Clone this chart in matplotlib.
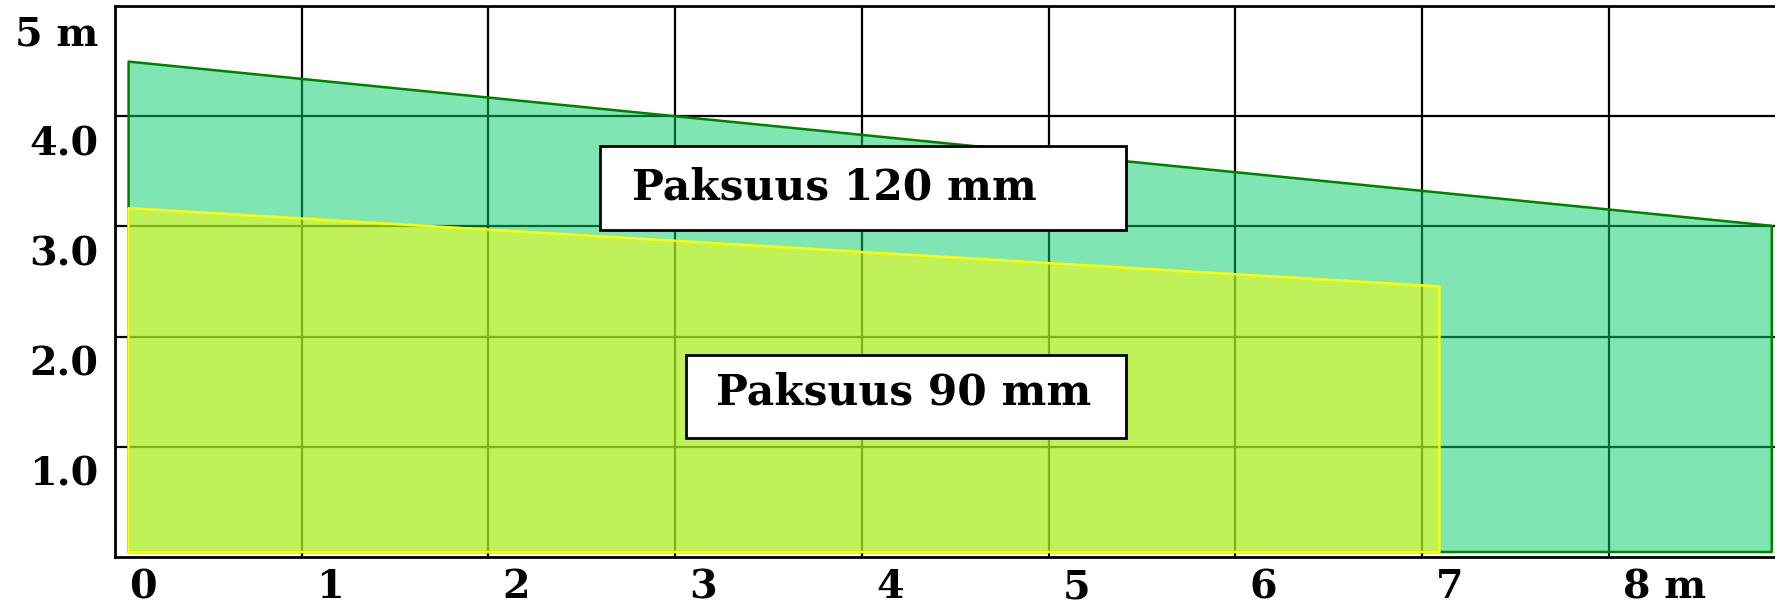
import matplotlib.pyplot as plt
import matplotlib.transforms as mtransforms
from matplotlib.patches import Rectangle

plt.rcParams['font.family'] = ['DejaVu Serif']

# data
x_120 = [0.07, 8.87]
top_120 = [4.5, 3.01]
x_90 = [0.07, 7.09]
top_90 = [3.17, 2.46]
bottom = 0.05

xticks = [0, 1, 2, 3, 4, 5, 6, 7, 8]
xlabels = ['0', '1', '2', '3', '4', '5', '6', '7', '8 m']
yticks = [1, 2, 3, 4, 5]
ylabels = ['1.0', '2.0', '3.0', '4.0', '5 m']

fig = plt.figure(figsize=(17.75, 6.04), dpi=100)
ax = fig.add_axes([115 / 1775, 47 / 604, 1 - 115 / 1775, 551 / 604])

ax.set_xlim(0, 8.89)
ax.set_ylim(0, 5)
ax.grid(True, color='black', linewidth=1.6)
ax.set_axisbelow(True)

ax.fill_between(x_120, top_120, bottom, facecolor=(0, 0.8, 0.4, 0.5),
                edgecolor='#008000', linewidth=1.8, zorder=2)
ax.fill_between(x_90, top_90, bottom, facecolor=(1, 1, 0, 0.5),
                edgecolor='#FFFF00', linewidth=1.8, zorder=3)

# label boxes
ax.add_patch(Rectangle((2.60, 2.97), 2.815, 0.76, facecolor='white',
                       edgecolor='black', linewidth=2, zorder=4))
ax.text(2.77, 3.35, 'Paksuus 120 mm', fontsize=30.5, fontweight='bold',
        ha='left', va='center', zorder=5)
ax.add_patch(Rectangle((3.06, 1.08), 2.355, 0.75, facecolor='white',
                       edgecolor='black', linewidth=2, zorder=4))
ax.text(3.22, 1.49, 'Paksuus 90 mm', fontsize=30.5, fontweight='bold',
        ha='left', va='center', zorder=5)

ax.set_xticks(xticks)
ax.set_xticklabels(xlabels, fontsize=28.5, fontweight='bold', ha='left')
ax.set_yticks(yticks)
ax.set_yticklabels(ylabels, fontsize=28.5, fontweight='bold', va='top')
ax.tick_params(length=0)
ax.tick_params(axis='x', pad=8)
ax.tick_params(axis='y', pad=12)

off_x = mtransforms.ScaledTranslation(14 / 100, 0, fig.dpi_scale_trans)
for lab in ax.get_xticklabels():
    lab.set_transform(lab.get_transform() + off_x)
off_y = mtransforms.ScaledTranslation(0, -9 / 100, fig.dpi_scale_trans)
for lab in ax.get_yticklabels():
    lab.set_transform(lab.get_transform() + off_y)

for s in ['left', 'bottom', 'top']:
    ax.spines[s].set_linewidth(2)
ax.spines['right'].set_visible(False)

fig.savefig('out.png', dpi=100)
